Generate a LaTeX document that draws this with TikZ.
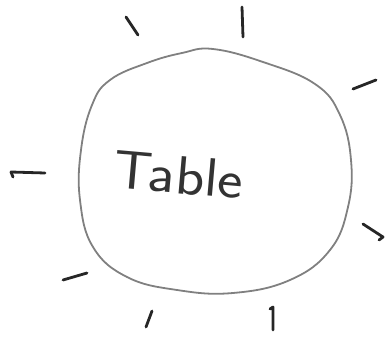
\documentclass[tikz,border=0pt]{standalone}
\usepackage{fontspec}
\begin{document}
\begin{tikzpicture}[x=1pt,y=-1pt,
  tableedge/.style={draw=black!50, line width=1.8pt, line join=round},
  chair/.style={draw=black!85, line width=2.8pt, line cap=round, line join=round},
  label/.style={font=\sffamily\fontsize{54}{54}\selectfont, text=black!80, inner sep=0pt}]
\useasboundingbox (0,0) rectangle (389,337);
\draw[tableedge] plot[smooth cycle, tension=0.7] coordinates {
 (147,63) (182,53) (213,49) (263,62) (315,84) (340,115) (351,160) (348,207)
 (330,250) (290,280) (233,293) (177,290) (127,277) (93,247) (80,200)
 (81,150) (92,105) (110,80)};
\node[label, rotate=-5, xscale=1.12] (table) at (179,175) {Table};
\draw[chair] (126,17) -- (138,35);
\draw[chair] (242,7) -- (243,37);
\draw[chair] (353,89) -- (376,80);
\draw[chair] (363,224) -- (383,237) -- (379,240);
\draw[chair] (270,309) -- (273,307) -- (273,330);
\draw[chair] (152,311) -- (146,327);
\draw[chair] (63,280) -- (87,273);
\draw[chair] (13,177) -- (11,172) -- (45,173);
\end{tikzpicture}
\end{document}
